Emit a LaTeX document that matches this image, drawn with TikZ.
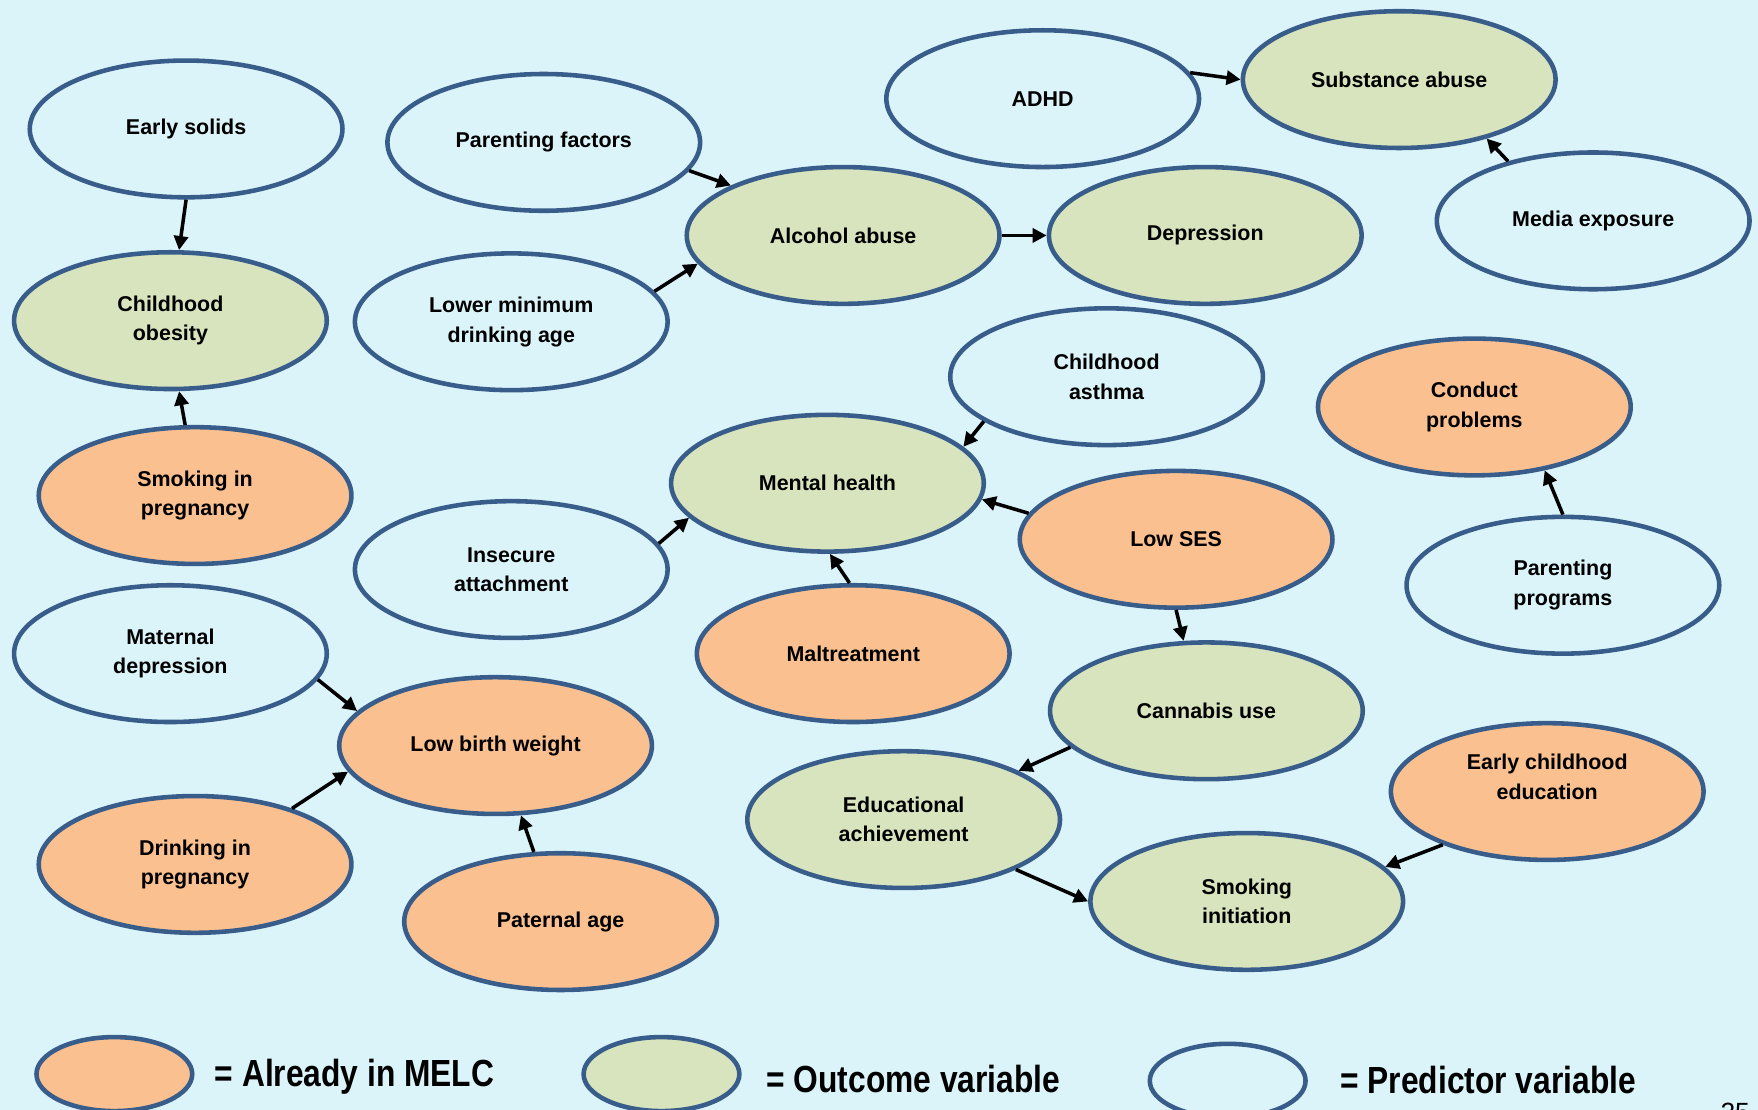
\documentclass[tikz,border=0pt]{standalone}
\usepackage{fontspec}
\usepackage{graphicx}
\setmainfont{Liberation Sans}
\usetikzlibrary{shapes.geometric,arrows.meta}
\definecolor{bg}{RGB}{219,244,249}
\definecolor{edgeblue}{RGB}{56,93,138}
\definecolor{orangefill}{RGB}{250,192,144}
\definecolor{greenfill}{RGB}{215,228,189}
\begin{document}
\begin{tikzpicture}[x=0.011212cm,y=-0.011212cm,
  var/.style={ellipse,draw=edgeblue,line width=1.3pt,minimum width=3.128cm,minimum height=1.368cm,inner sep=0pt,align=center,font=\fontsize{6.1}{8.4}\selectfont\bfseries},
  pred/.style={var},
  outc/.style={var,fill=greenfill},
  melc/.style={var,fill=orangefill},
  arr/.style={-{Triangle[length=4pt,width=4pt]},line width=1pt,black},
  leg/.style={ellipse,draw=edgeblue,line width=1.3pt,minimum width=1.558cm,minimum height=0.74cm,inner sep=0pt},
  legtext/.style={anchor=west,font=\fontsize{10.75}{12}\selectfont\bfseries,inner sep=0pt}
]
\fill[bg] (0,0) rectangle (1568,990);
\useasboundingbox (0,0) rectangle (1568,990);

\node[pred] (es) at (166,115) {Early solids};
\node[pred] (pf) at (485,127) {Parenting factors};
\node[pred] (adhd) at (930,88) {ADHD};
\node[outc] (sa) at (1248,71) {Substance abuse};
\node[outc] (co) at (152,286) {Childhood\\obesity};
\node[pred] (lm) at (456,287) {Lower minimum\\drinking age};
\node[outc] (aa) at (752,210) {Alcohol abuse};
\node[outc] (dep) at (1075,210) {Depression};
\node[pred] (me) at (1421,197) {Media exposure};
\node[pred] (ca) at (987,336) {Childhood\\asthma};
\node[melc] (cp) at (1315,363) {Conduct\\problems};
\node[melc] (sp) at (174,442) {Smoking in\\pregnancy};
\node[outc] (mh) at (738,431) {Mental health};
\node[melc] (ses) at (1049,481) {Low SES};
\node[pred] (ia) at (456,508) {Insecure\\attachment};
\node[pred] (pp) at (1394,522) {Parenting\\programs};
\node[pred] (md) at (152,583) {Maternal\\depression};
\node[melc] (mal) at (761,583) {Maltreatment};
\node[outc] (cu) at (1076,634) {Cannabis use};
\node[melc] (lbw) at (442,665) {Low birth weight};
\node[melc,text depth=8.3pt] (ece) at (1380,706) {Early childhood\\education};
\node[outc] (ea) at (806,731) {Educational\\achievement};
\node[melc] (dp) at (174,771) {Drinking in\\pregnancy};
\node[outc] (si) at (1112,804) {Smoking\\initiation};
\node[melc] (pa) at (500,822) {Paternal age};

\draw[arr] (es.-90) -- (co.83);
\draw[arr] (sp.98) -- (co.-83);
\draw[arr] (pf.-11) -- (aa.156);
\draw[arr] (lm.12) -- (aa.191);
\draw[arr] (aa.0) -- (dep.180);
\draw[arr] (adhd.10) -- (sa.180);
\draw[arr] (me.145) -- (sa.-34);
\draw[arr] (ca.200) -- (mh.15);
\draw[arr] (ses.170) -- (mh.-6);
\draw[arr] (ia.10) -- (mh.194);
\draw[arr] (mal.93) -- (mh.-88);
\draw[arr] (ses.-90) -- (cu.108);
\draw[arr] (pp.90) -- (cp.-42);
\draw[arr] (cu.195) -- (ea.23);
\draw[arr] (ea.-24) -- (si.180);
\draw[arr] (ece.207) -- (si.14);
\draw[arr] (md.-10) -- (lbw.166);
\draw[arr] (dp.30) -- (lbw.190);
\draw[arr] (pa.111) -- (lbw.-70);

\node[leg,fill=orangefill] (l1) at (102,958) {};
\node[leg,fill=greenfill] (l2) at (590,958) {};
\node[leg] (l3) at (1095,964) {};
\node[legtext] (t1) at (191,960) {\scalebox{0.84}[1]{= Already in MELC}};
\node[legtext] (t2) at (683,962) {\scalebox{0.84}[1]{= Outcome variable}};
\node[legtext] (t3) at (1195,963) {\scalebox{0.84}[1]{= Predictor variable}};
\node[anchor=north west,inner sep=0pt,font=\fontsize{7.5}{9}\selectfont] (num) at (1534,983) {25};
\end{tikzpicture}
\end{document}
